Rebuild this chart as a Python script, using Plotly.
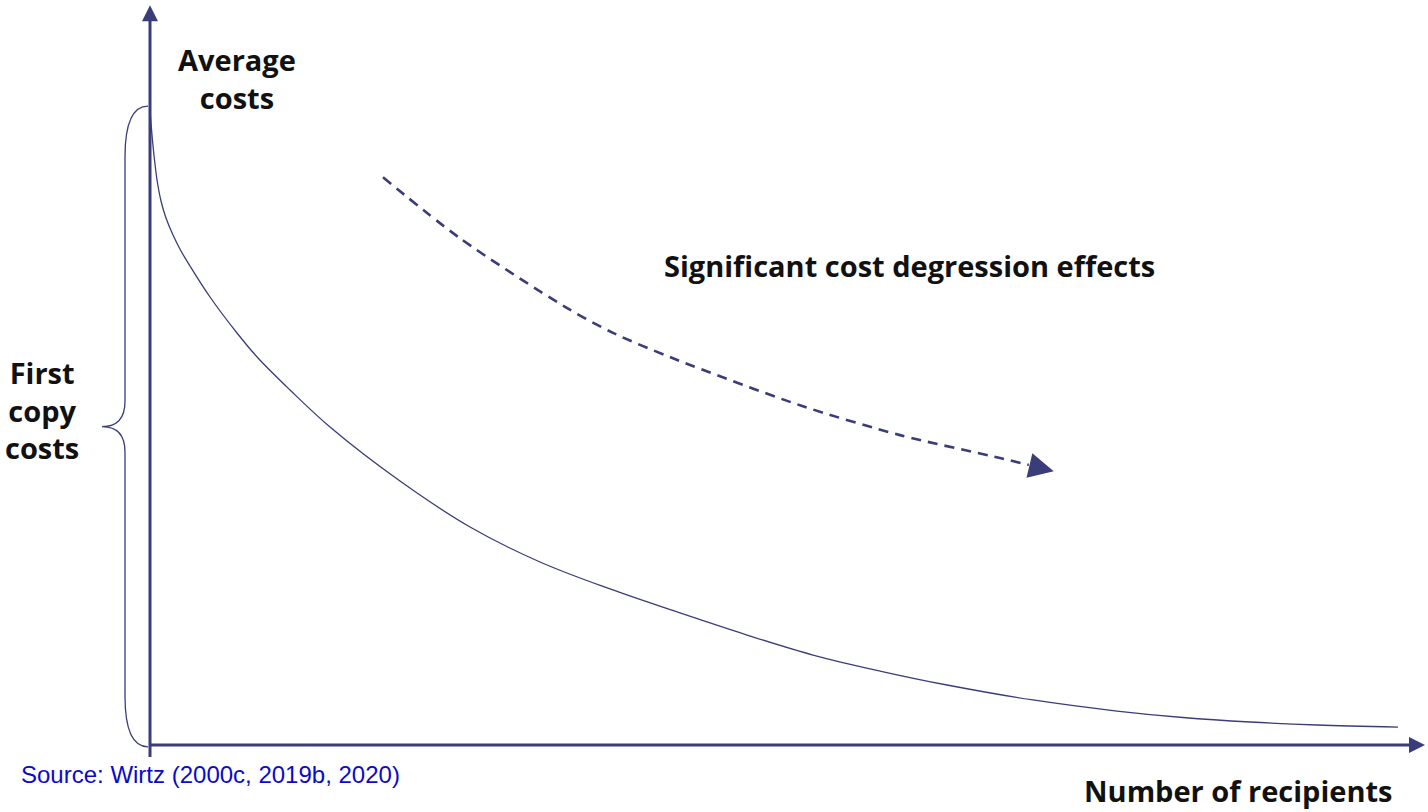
import plotly.graph_objects as go

# ---------------- data ----------------
# average-cost curve: number of recipients (x) vs average costs (y); first copy cost = 100
recipients = [0, 0.16, 0.36, 0.6, 0.88, 1.28, 1.84, 2.48, 3.2, 4.8, 6.96, 8.64, 11.2, 14.4,
              20.0, 25.6, 31.2, 36.8, 42.4, 47.76, 53.04, 58.4, 63.76, 70.64, 77.36, 82.64,
              88.0, 93.36, 99.84]
avg_costs = [100.0, 96.06, 92.13, 88.50, 85.67, 82.99, 80.31, 77.80, 75.43, 70.55, 64.88,
             60.94, 55.91, 50.08, 41.57, 34.33, 28.82, 24.57, 20.79, 17.32, 14.17, 11.65,
             9.45, 7.09, 5.35, 4.33, 3.62, 3.15, 2.83]

# dashed "cost degression" arrow
trend_x = [18.64, 24.8, 33.2, 37.04, 41.84, 52.0, 60.0, 68.0, 70.3]
trend_y = [89.4, 79.8, 69.0, 64.9, 60.9, 53.5, 48.8, 45.2, 44.1]
trend_tip = (72.3, 43.1)

# axis geometry in data units
X_MIN, X_MAX = -12.0, 102.24
Y_MIN, Y_MAX = -10.55, 117.32
X_TIP = 102.0
Y_TIP = 116.5
FIRST_COPY = 100.0

NAVY = "#3b3c7a"
LABEL_FONT = dict(family="Open Sans, Noto Sans, sans-serif", size=29, color="#111111", weight="bold")

fig = go.Figure()

# average cost curve
fig.add_trace(go.Scatter(x=recipients, y=avg_costs, mode="lines",
                         line=dict(color=NAVY, width=1.3, shape="spline", smoothing=1.0),
                         hoverinfo="skip", showlegend=False))

# dashed trend arrow
fig.add_trace(go.Scatter(x=trend_x, y=trend_y, mode="lines",
                         line=dict(color=NAVY, width=2.6, dash="10px,7px", shape="spline", smoothing=0.8),
                         hoverinfo="skip", showlegend=False))
fig.add_trace(go.Scatter(x=[trend_tip[0]], y=[trend_tip[1]], mode="markers",
                         marker=dict(symbol="arrow-right", size=25, color=NAVY, angle=13.5,
                                     line=dict(width=0)),
                         hoverinfo="skip", showlegend=False))

# axes arrows
fig.add_shape(type="line", x0=0, x1=X_TIP - 1.0, y0=0, y1=0, line=dict(color=NAVY, width=3))
fig.add_shape(type="line", x0=0, x1=0, y0=-1.9, y1=Y_TIP - 2.0, line=dict(color=NAVY, width=3))
fig.add_trace(go.Scatter(x=[X_TIP], y=[0], mode="markers",
                         marker=dict(symbol="arrow-right", size=16, color=NAVY, line=dict(width=0)),
                         hoverinfo="skip", showlegend=False))
fig.add_trace(go.Scatter(x=[0], y=[Y_TIP], mode="markers",
                         marker=dict(symbol="arrow-up", size=16, color=NAVY, line=dict(width=0)),
                         hoverinfo="skip", showlegend=False))

# curly brace for first copy costs
bx, tipx, top, bot = -2.0, -3.84, FIRST_COPY + 0.6, -0.3
mid = (top + bot) / 2
brace = (f"M -0.16,{top} Q {bx},{top} {bx},{top - 8} "
         f"L {bx},{mid + 4} Q {bx},{mid} {tipx},{mid} "
         f"Q {bx},{mid} {bx},{mid - 4} "
         f"L {bx},{bot + 8} Q {bx},{bot} -0.16,{bot}")
fig.add_shape(type="path", path=brace, line=dict(color=NAVY, width=1.3))

# labels
def label(text, px, py, font=LABEL_FONT, yanchor="middle"):
    fig.add_annotation(text=text, x=px / 1428, y=1 - py / 812, xref="paper", yref="paper",
                       xanchor="center", yanchor=yanchor, showarrow=False, font=font, align="center")

label("Average<br>costs", 237, 78)
label("First<br>copy<br>costs", 42, 410)
label("Significant cost degression effects", 910, 265)
label("Number of recipients", 1238, 812, yanchor="bottom")
fig.add_annotation(text="Source: Wirtz (2000c, 2019b, 2020)", x=19 / 1428, y=1 - 774 / 812,
                   xref="paper", yref="paper", xanchor="left", yanchor="middle", showarrow=False,
                   font=dict(family="Liberation Sans, Arial, sans-serif", size=24, color="#0a0acc"))

fig.update_layout(width=1428, height=812, margin=dict(l=0, r=0, t=0, b=0),
                  paper_bgcolor="white", plot_bgcolor="white",
                  xaxis=dict(range=[X_MIN, X_MAX], visible=False, fixedrange=True),
                  yaxis=dict(range=[Y_MIN, Y_MAX], visible=False, fixedrange=True),
                  showlegend=False)

fig.write_html("out.html", config={"displayModeBar": False},
               post_script="document.body.style.margin='0';document.body.style.overflow='hidden';")
